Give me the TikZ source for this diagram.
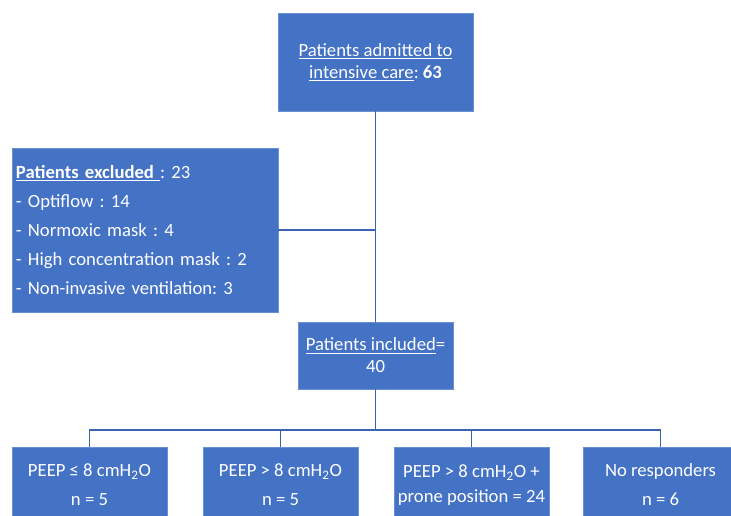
\documentclass[tikz,border=0pt]{standalone}
\usepackage{fontspec}
\setmainfont{Carlito}
\frenchspacing
\usetikzlibrary{positioning, calc}
\definecolor{boxBlue}{HTML}{4472C4}
\definecolor{edgeBlue}{HTML}{6A8FD3}
\definecolor{lineBlue}{HTML}{3B64B0}
\tikzset{
    % Boxes
    flowBox/.style={rectangle, fill=boxBlue, draw=edgeBlue, thin, text=white,
        align=center, inner sep=0pt, font=\fontsize{14}{16.5}\selectfont},
    listBox/.style={flowBox, align=left, inner xsep=3pt,
        font=\fontsize{14}{21.75}\selectfont},
    armBox/.style={flowBox, minimum width=116.25pt, minimum height=57pt,
        font=\fontsize{14}{21.75}\selectfont},
    % Connectors
    flowLink/.style={draw=lineBlue, line width=1pt}
}
\begin{document}
\begin{tikzpicture}[x=0.75pt, y=-0.75pt]
    \useasboundingbox (0,0) rectangle (731,516);

    % Admitted
    \node[flowBox, minimum width=146.25pt, minimum height=73.5pt] (admitted) at (375.5, 62)
        {\underline{Patients admitted to}\\\underline{intensive care}: \textbf{63}};

    % Excluded
    \node[listBox, text width=193.5pt, minimum height=123pt] (excluded) at (145, 230)
        {\underline{\textbf{Patients excluded}\ }: 23\\
         - Optiflow : 14\\
         - Normoxic mask : 4\\
         - High concentration mask : 2\\
         - Non-invasive ventilation: 3};

    % Included
    \node[flowBox, minimum width=116.25pt, minimum height=50.25pt] (included) at (375.5, 355.5)
        {\underline{Patients included}=\\40};

    % Groups
    \node[armBox] (peepLow) at (89.5, 485) {PEEP ≤ 8 cmH\textsubscript{2}O\\n = 5};
    \node[armBox] (peepHigh) at (280.5, 485) {PEEP > 8 cmH\textsubscript{2}O\\n = 5};
    \node[armBox, font=\fontsize{14}{18.75}\selectfont] (peepProne) at (471.5, 485)
        {PEEP > 8 cmH\textsubscript{2}O +\\prone position = 24};
    \node[armBox] (noResp) at (660.5, 485) {No responders\\n = 6};

    % Links
    \draw[flowLink] (admitted.south) -- (included.north);
    \draw[flowLink] (excluded.east) -- (excluded.east -| admitted.south);
    \coordinate (split) at (375.5, 430);
    \draw[flowLink] (included.south) -- (split);
    \foreach \g in {peepLow, peepHigh, peepProne, noResp}
        \draw[flowLink] (split) -| (\g.north);
\end{tikzpicture}
\end{document}
